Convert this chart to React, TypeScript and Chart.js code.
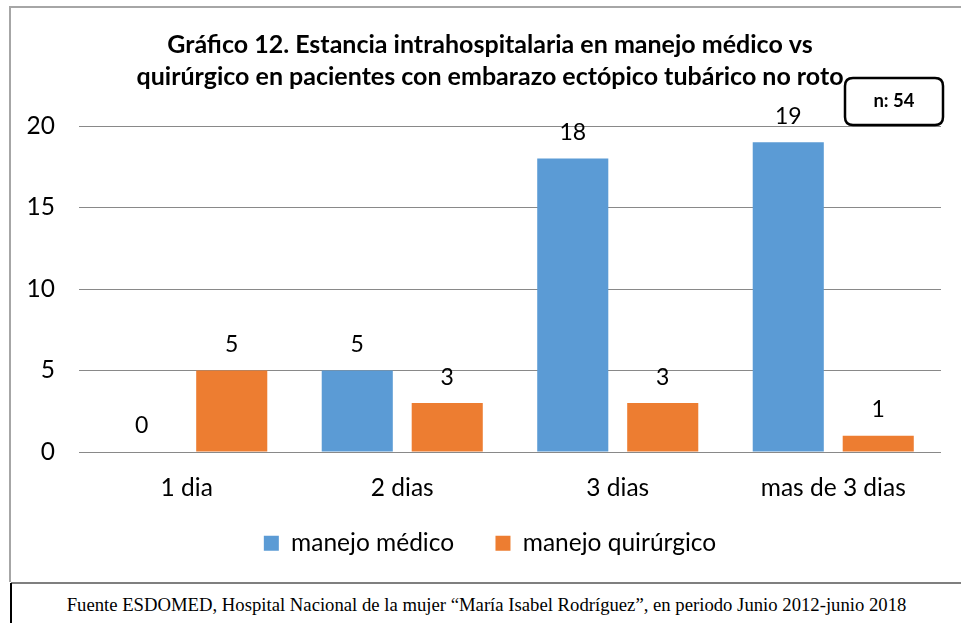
import React, { useEffect, useRef } from "react";
import { Chart, registerables } from "chart.js";

Chart.register(...registerables);

const categories = ["1 dia", "2 dias", "3 dias", "mas de 3 dias"];
const medico = [0, 5, 18, 19];
const quirurgico = [5, 3, 3, 1];
const seriesNames = ["manejo médico", "manejo quirúrgico"];
const titleLines = [
  "Gráfico 12. Estancia intrahospitalaria en manejo médico vs",
  "quirúrgico en pacientes con embarazo ectópico tubárico no roto",
];
const nLabel = "n: 54";
const footer =
  "Fuente ESDOMED, Hospital Nacional de la mujer “María Isabel Rodríguez”, en periodo Junio 2012-junio 2018";

const FONT = "Lato, 'Open Sans', sans-serif";

const labelPlugin = {
  id: "valueLabels",
  afterDatasetsDraw(chart: any) {
    const ctx = chart.ctx;
    ctx.save();
    ctx.font = `23px ${FONT}`;
    ctx.fillStyle = "#000";
    ctx.textAlign = "center";
    ctx.textBaseline = "middle";
    chart.data.datasets.forEach((ds: any, i: number) => {
      const meta = chart.getDatasetMeta(i);
      meta.data.forEach((bar: any, j: number) => {
        ctx.fillText(String(ds.data[j]), bar.x, bar.y - 26);
      });
    });
    ctx.restore();
  },
};

const nBoxPlugin = {
  id: "nBox",
  afterDraw(chart: any) {
    const ctx = chart.ctx;
    // canvas offset: left 10, top 6
    const x = 845 - 10, y = 78 - 6, w = 98, h = 47, r = 8;
    ctx.save();
    ctx.beginPath();
    ctx.moveTo(x + r, y);
    ctx.lineTo(x + w - r, y);
    ctx.quadraticCurveTo(x + w, y, x + w, y + r);
    ctx.lineTo(x + w, y + h - r);
    ctx.quadraticCurveTo(x + w, y + h, x + w - r, y + h);
    ctx.lineTo(x + r, y + h);
    ctx.quadraticCurveTo(x, y + h, x, y + h - r);
    ctx.lineTo(x, y + r);
    ctx.quadraticCurveTo(x, y, x + r, y);
    ctx.closePath();
    ctx.fillStyle = "#fff";
    ctx.fill();
    ctx.lineWidth = 2.5;
    ctx.strokeStyle = "#000";
    ctx.stroke();
    ctx.font = `bold 18.5px ${FONT}`;
    ctx.fillStyle = "#000";
    ctx.textAlign = "center";
    ctx.textBaseline = "middle";
    ctx.fillText(nLabel, x + w / 2, y + h / 2);
    ctx.restore();
  },
};

export default function App() {
  const ref = useRef<HTMLCanvasElement>(null);
  useEffect(() => {
    if (!ref.current) return;
    const defaultGen = (Chart as any).defaults.plugins.legend.labels.generateLabels;
    const chart = new Chart(ref.current, {
      type: "bar",
      data: {
        labels: categories,
        datasets: [
          {
            label: seriesNames[0],
            data: medico,
            backgroundColor: "#5B9BD5",
            categoryPercentage: 0.835,
            barPercentage: 0.79,
          },
          {
            label: seriesNames[1],
            data: quirurgico,
            backgroundColor: "#ED7D31",
            categoryPercentage: 0.835,
            barPercentage: 0.79,
          },
        ],
      },
      options: {
        animation: false,
        responsive: false,
        layout: { padding: { left: 0, right: 0, top: 0, bottom: 16.5 } },
        plugins: {
          tooltip: { enabled: false },
          title: {
            display: true,
            text: titleLines,
            color: "#000",
            font: { family: FONT, size: 25, weight: "bold", lineHeight: 1.28 },
            padding: { top: 23, bottom: 33 },
          },
          legend: {
            position: "bottom",
            labels: {
              color: "#000",
              font: { family: FONT, size: 24.5 },
              boxWidth: 15,
              boxHeight: 15,
              padding: 10,
              generateLabels: (c: any) => {
                const items = defaultGen(c);
                return items.map((it: any, i: number) =>
                  i < items.length - 1 ? { ...it, text: it.text + "\u00a0\u00a0\u00a0\u00a0\u00a0" } : it
                );
              },
            },
          },
        },
        scales: {
          x: {
            grid: { display: false, drawTicks: false },
            border: { display: false },
            ticks: { color: "#000", font: { family: FONT, size: 24.5 }, padding: 21, maxRotation: 0 },
            afterFit: (s: any) => {
              s.height = 69;
            },
          },
          y: {
            min: 0,
            max: 20,
            ticks: { stepSize: 5, color: "#000", font: { family: FONT, size: 24.5 }, padding: 24 },
            grid: { color: "#898989", drawTicks: false, lineWidth: 1 },
            border: { display: false },
            afterFit: (s: any) => {
              s.width = 69;
            },
          },
          spacer: {
            type: "linear",
            position: "right",
            display: true,
            ticks: { display: false },
            grid: { display: false, drawTicks: false },
            border: { display: false },
            afterFit: (s: any) => {
              s.width = 29;
            },
          },
        },
      },
      plugins: [labelPlugin, nBoxPlugin],
    } as any);
    return () => chart.destroy();
  }, []);

  return (
    <div style={{ position: "absolute", left: 0, top: 0, width: 961, height: 623, background: "#fff", overflow: "hidden" }}>
      <div
        style={{
          position: "absolute",
          left: 9,
          top: 6,
          width: 960,
          height: 576,
          borderLeft: "2px solid #a6a6a6",
          borderTop: "2px solid #a6a6a6",
          boxSizing: "border-box",
        }}
      />
      <canvas ref={ref} width={960} height={576} style={{ position: "absolute", left: 10, top: 6, width: 960, height: 576 }} />
      <div style={{ position: "absolute", left: 11, top: 582, width: 950, height: 2, background: "#7f7f7f" }} />
      <div style={{ position: "absolute", left: 10, top: 583, width: 2, height: 40, background: "#000" }} />
      <div
        style={{
          position: "absolute",
          left: 12,
          top: 594,
          width: 949,
          textAlign: "center",
          fontFamily: "'Liberation Serif', 'Times New Roman', serif",
          fontSize: 18.7,
          color: "#000",
          whiteSpace: "nowrap",
          lineHeight: "22px",
        }}
      >
        {footer}
      </div>
    </div>
  );
}
